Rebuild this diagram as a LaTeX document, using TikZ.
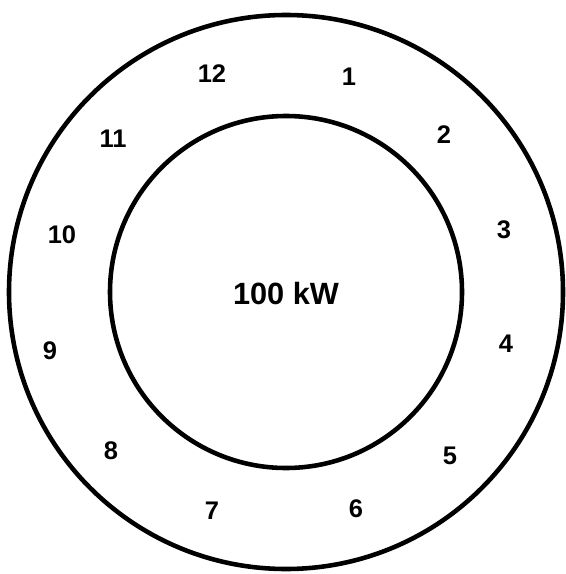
\documentclass[tikz,border=0pt]{standalone}
\usepackage{fontspec}
\setmainfont{Liberation Sans}
\usepackage{tikz}

\begin{document}
\begin{tikzpicture}[x=0.02cm, y=-0.02cm,
  ring/.style={line width=2.6pt},
  num/.style={font=\bfseries\fontsize{14.5}{16}\selectfont, inner sep=0pt},
  big/.style={font=\bfseries\fontsize{17.5}{20}\selectfont, inner sep=0pt}]

\useasboundingbox (0,0) rectangle (565,574);

% Rings
\coordinate (c) at (286,292);
\draw[ring] (c) circle [radius=277];
\draw[ring] (c) circle [radius=176];

% Load
\node[big] (load) at (286,294) {100 kW};

% Positions
\node[num] (p1)  at (349,77)  {1};
\node[num] (p2)  at (444,135) {2};
\node[num] (p3)  at (504,230) {3};
\node[num] (p4)  at (506,344) {4};
\node[num] (p5)  at (450,456) {5};
\node[num] (p6)  at (356,509) {6};
\node[num] (p7)  at (212,511) {7};
\node[num] (p8)  at (111,451) {8};
\node[num] (p9)  at (50,351)  {9};
\node[num] (p10) at (62,235)  {10};
\node[num] (p11) at (113,139) {11};
\node[num] (p12) at (212,74)  {12};

\end{tikzpicture}
\end{document}
